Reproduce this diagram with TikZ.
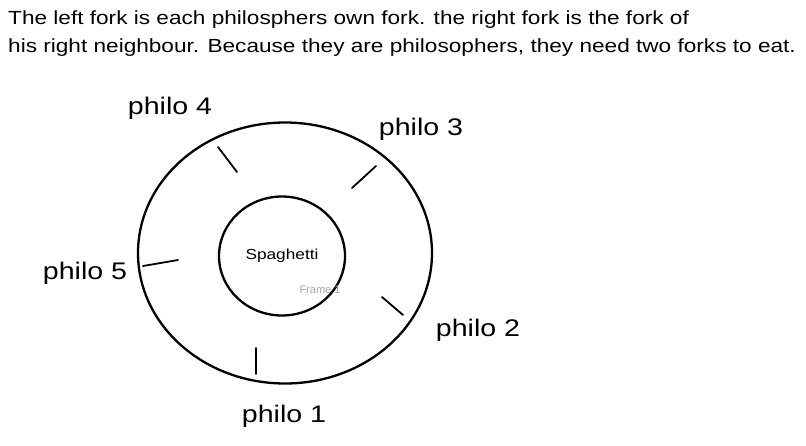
\documentclass[tikz,border=0pt]{standalone}
\usepackage{fontspec}
\setmainfont{Liberation Sans}
\newfontfamily\handfont[FakeStretch=1.19]{Liberation Sans}
\usetikzlibrary{shapes.geometric, positioning}

\begin{document}
\begin{tikzpicture}[
  x=1pt, y=-1pt,
  ring/.style={draw, ellipse, line width=2.3pt, inner sep=0pt},
  fork/.style={line width=1.8pt, line cap=round},
  philo/.style={font=\handfont\fontsize{24}{26}\selectfont, inner sep=0pt}
]
  \useasboundingbox (0,0) rectangle (806,445);

  % explanation on top
  \node[anchor=north west, align=left, inner sep=0pt,
        font=\handfont\fontsize{19}{28}\selectfont] (note) at (8,11) {
    The left fork is each philosphers own fork. the right fork is the fork of\\
    his right neighbour. Because they are philosophers, they need two forks to eat.
  };

  % table and plate
  \node[ring, minimum width=294pt, minimum height=261pt] (table) at (285,253) {};
  \node[ring, minimum width=126pt, minimum height=119pt,
        font=\handfont\fontsize{14.5}{16}\selectfont] (plate) at (282,256) {Spaghetti};
  \node[text=black!35, font=\fontsize{11}{12}\selectfont, inner sep=0pt] (frame) at (320,290) {Frame 1};

  % forks
  \draw[fork] (218,147) -- (237,172);
  \draw[fork] (376,166) -- (352,188);
  \draw[fork] (143,266) -- (178,260);
  \draw[fork] (382,297) -- (403,315);
  \draw[fork] (256,348) -- (256,374);

  % philosophers
  \node[philo] (p4) at (170,108) {philo 4};
  \node[philo] (p3) at (421,129) {philo 3};
  \node[philo] (p5) at (85,273) {philo 5};
  \node[philo] (p2) at (478,330) {philo 2};
  \node[philo] (p1) at (284,416) {philo 1};
\end{tikzpicture}
\end{document}
